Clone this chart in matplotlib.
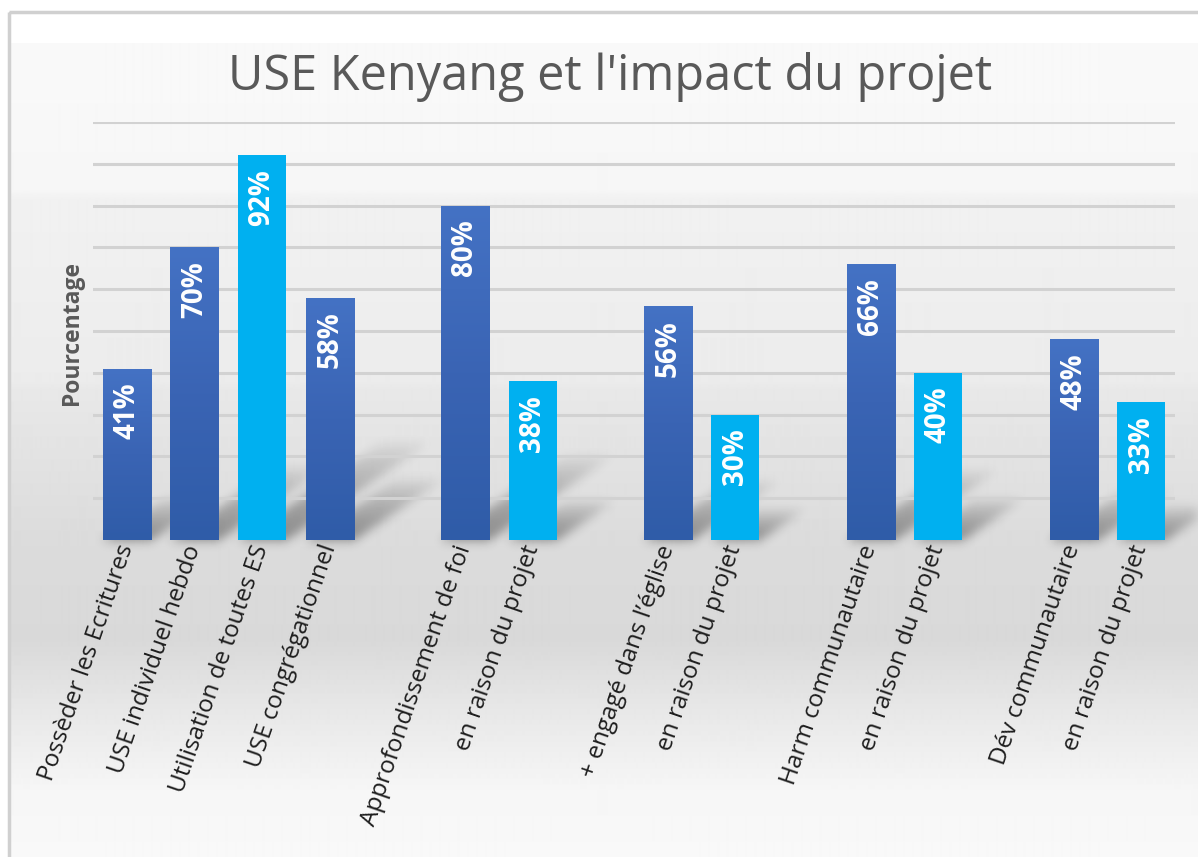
import numpy as np
import matplotlib
matplotlib.use("Agg")
import matplotlib.pyplot as plt
from matplotlib.patches import Rectangle
from matplotlib.colors import LinearSegmentedColormap

plt.rcParams['font.family'] = ['Open Sans', 'DejaVu Sans']

# ---- data ----
title = "USE Kenyang et l'impact du projet"
ylabel = "Pourcentage"
categories = ["Possèder les Ecritures", "USE individuel hebdo", "Utilisation de toutes ES",
              "USE congrégationnel", "Approfondissement de foi", "en raison du projet",
              "+ engagé dans l’église", "en raison du projet", "Harm communautaire",
              "en raison du projet", "Dév communautaire", "en raison du projet"]
values = [41, 70, 92, 58, 80, 38, 56, 30, 66, 40, 48, 33]
highlight = [False, False, True, False, False, True, False, True, False, True, False, True]
group_sizes = [4, 2, 2, 2, 2]

# positions: groups separated by one empty slot
positions = []
p = 0
for g in group_sizes:
    positions.extend(range(p, p + g))
    p += g + 1

W, H = 1198, 857
fig = plt.figure(figsize=(W / 100, H / 100), dpi=100)

# background gradient (pixel coordinates)
bg = fig.add_axes([0, 0, 1, 1], zorder=0)
bg.set_xlim(0, W)
bg.set_ylim(H, 0)
bg.axis('off')
ys = np.array([43, 120, 190, 200, 380, 390, 540, 640, 700, 790, 857])
gs = np.array([0.975, 0.972, 0.965, 0.945, 0.925, 0.91, 0.86, 0.85, 0.90, 0.965, 0.975])
yy = np.arange(43, H)
col = np.interp(yy, ys, gs)
img = np.repeat(col[:, None], 2, axis=1)
bg.imshow(img, cmap='gray', vmin=0, vmax=1, extent=[10, W, H, 43], aspect='auto',
          interpolation='bilinear')
bg.add_patch(Rectangle((9, 12), W + 20, H + 20, fill=False, edgecolor='#d0d0d0', lw=2.5))

# main axes
left, right, bottom, top = 93, 1175, 540, 122
ax = fig.add_axes([left / W, (H - bottom) / H, (right - left) / W, (bottom - top) / H], zorder=1)
ax.set_facecolor('none')
ax.set_xlim(-0.5, positions[-1] + 0.5)
ax.set_ylim(0, 100)
ax.set_yticks(np.arange(10, 101, 10))
ax.yaxis.grid(True, color='#d2d2d2', lw=2.2)
ax.set_axisbelow(True)
ax.tick_params(axis='y', length=0, labelleft=False)
ax.tick_params(axis='x', length=0, pad=4)
for s in ax.spines.values():
    s.set_visible(False)

dark_cmap = LinearSegmentedColormap.from_list('d', ['#2F5CA8', '#3A64B4', '#4472C4'])
bw = 0.71
bars = ax.bar(positions, values, width=bw, color=['#00B0F0' if h else '#3A66B8' for h in highlight],
              zorder=3, linewidth=0)
grad = np.linspace(0, 1, 256)[:, None]
for b, h in zip(bars, highlight):
    if not h:
        x0 = b.get_x()
        im = ax.imshow(grad, cmap=dark_cmap, extent=[x0, x0 + b.get_width(), 0, b.get_height()],
                       origin='lower', aspect='auto', zorder=3.5)
        im.set_clip_path(b)
ax.set_xlim(-0.5, positions[-1] + 0.5)
ax.set_ylim(0, 100)

# ---- soft perspective shadows behind bars (pixel space) ----
fig.canvas.draw()
shadow = np.zeros((H, W))
YY, XX = np.mgrid[0:H, 0:W]
for b in bars:
    (px0, py0) = ax.transData.transform((b.get_x(), 0))
    (px1, py1) = ax.transData.transform((b.get_x() + b.get_width(), b.get_height()))
    base = H - py0
    hpx = py1 - py0
    sx, sy = 0.38 * hpx, 0.26 * hpx
    t = (base - YY) / sy
    u = XX - t * sx
    mask = (t >= 0) & (t <= 1) & (u >= px0) & (u <= px1)
    shadow = np.maximum(shadow, np.where(mask, (1 - t) ** 0.7, 0.0))
def blur(a, sigma):
    r = int(3 * sigma)
    k = np.exp(-0.5 * (np.arange(-r, r + 1) / sigma) ** 2)
    k /= k.sum()
    a = np.apply_along_axis(lambda m: np.convolve(m, k, mode='same'), 0, a)
    a = np.apply_along_axis(lambda m: np.convolve(m, k, mode='same'), 1, a)
    return a
shadow = blur(shadow, 5)
rgba = np.zeros((H, W, 4))
rgba[..., 3] = np.clip(shadow * 0.38, 0, 1)
bg.imshow(rgba, extent=[0, W, H, 0], aspect='auto', interpolation='bilinear', zorder=2)
bg.set_xlim(0, W)
bg.set_ylim(H, 0)

for x, v in zip(positions, values):
    ax.annotate(f"{v}%", xy=(x, v), xytext=(0, -10), textcoords='offset points',
                ha='center', va='top', rotation=90, color='white', fontsize=20,
                fontweight='bold', zorder=5)

ax.set_xticks(positions)
ax.set_xticklabels(categories, rotation=71, ha='right', va='center', rotation_mode='anchor',
                   fontsize=17.5, color='#1e1e1e')

fig.text(610 / W, 1 - 77 / H, title, ha='center', va='center', fontsize=35, color='#595959')
fig.text(72 / W, 1 - 333 / H, ylabel, ha='center', va='center', rotation=90, fontsize=16.5,
         fontweight='bold', color='#595959')

fig.savefig('out.png', dpi=100)
